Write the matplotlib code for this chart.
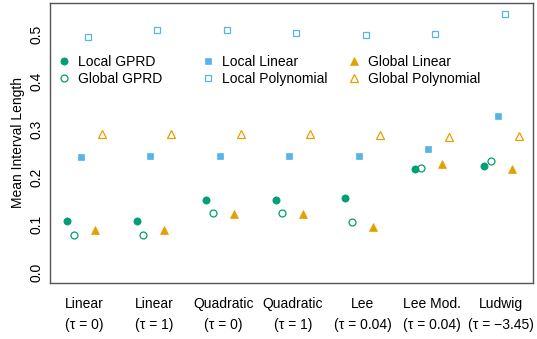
import matplotlib
matplotlib.use("Agg")
import matplotlib.pyplot as plt
from matplotlib.legend import Legend

plt.rcParams['font.family'] = ['Liberation Sans', 'DejaVu Sans']
plt.rcParams['font.size'] = 10

# benchmark designs (two-line tick labels)
designs = ["Linear", "Linear", "Quadratic", "Quadratic", "Lee", "Lee Mod.", "Ludwig"]
taus = ["0", "1", "0", "1", "0.04", "0.04", "\u22123.45"]

# mean interval length per method, one value per design
local_gprd = [0.109, 0.109, 0.153, 0.153, 0.156, 0.217, 0.224]
global_gprd = [0.078, 0.078, 0.124, 0.124, 0.105, 0.220, 0.233]
local_linear = [0.242, 0.244, 0.244, 0.244, 0.244, 0.258, 0.329]
local_poly = [0.494, 0.508, 0.508, 0.503, 0.497, 0.499, 0.541]
global_linear = [0.090, 0.090, 0.123, 0.123, 0.095, 0.228, 0.218]
global_poly = [0.290, 0.290, 0.291, 0.290, 0.2875, 0.285, 0.287]

green = "#009E73"
blue = "#56B4E9"
orange = "#E69F00"

series = [
    ("Local GPRD", local_gprd, "o", green, True, 5.2),
    ("Global GPRD", global_gprd, "o", green, False, 5.0),
    ("Local Linear", local_linear, "s", blue, True, 4.6),
    ("Local Polynomial", local_poly, "s", blue, False, 4.6),
    ("Global Linear", global_linear, "^", orange, True, 6.0),
    ("Global Polynomial", global_poly, "^", orange, False, 6.0),
]
offsets = [-0.25, -0.15, -0.05, 0.05, 0.15, 0.25]

fig = plt.figure(figsize=(5.37, 3.39), dpi=100)
ax = fig.add_axes([50 / 537, 1 - 283 / 339, 483 / 537, 280 / 339])

handles = []
for (name, vals, mk, col, filled, ms), off in zip(series, offsets):
    xs = [i + 1 + off for i in range(len(vals))]
    ln, = ax.plot(xs, vals, linestyle="none", marker=mk, markersize=ms,
                  markerfacecolor=col if filled else "none",
                  markeredgecolor=col, markeredgewidth=0.9 if not filled else 0.5,
                  label=name)
    handles.append(ln)

ax.set_xlim(0.505, 7.455)
ax.set_ylim(-0.022, 0.565)

ax.set_yticks([0.0, 0.1, 0.2, 0.3, 0.4, 0.5])
ax.set_yticklabels(["0.0", "0.1", "0.2", "0.3", "0.4", "0.5"], rotation=90, va="center")
ax.tick_params(axis="y", length=0, pad=5, labelsize=10)
ax.set_ylabel("Mean Interval Length", fontsize=10, labelpad=3)

ax.set_xticks(range(1, 8))
ax.set_xticklabels([f"{d}\n(\u03c4 = {t})" for d, t in zip(designs, taus)],
                   linespacing=1.65)
ax.tick_params(axis="x", length=0, pad=10, labelsize=10)

for sp in ax.spines.values():
    sp.set_color("#555555")
    sp.set_linewidth(1.0)

# legend laid out as three equal-width columns
col_x = [57, 201, 347]
for c in range(3):
    pair = handles[2 * c:2 * c + 2]
    leg = Legend(ax, pair, [h.get_label() for h in pair], loc="upper left",
                 bbox_to_anchor=(col_x[c] / 537, 1 - 55 / 339),
                 bbox_transform=fig.transFigure, frameon=False,
                 handlelength=1.0, handletextpad=0.5, labelspacing=0.22,
                 borderpad=0, borderaxespad=0, fontsize=10, numpoints=1)
    ax.add_artist(leg)

fig.savefig("out.png", dpi=100)
